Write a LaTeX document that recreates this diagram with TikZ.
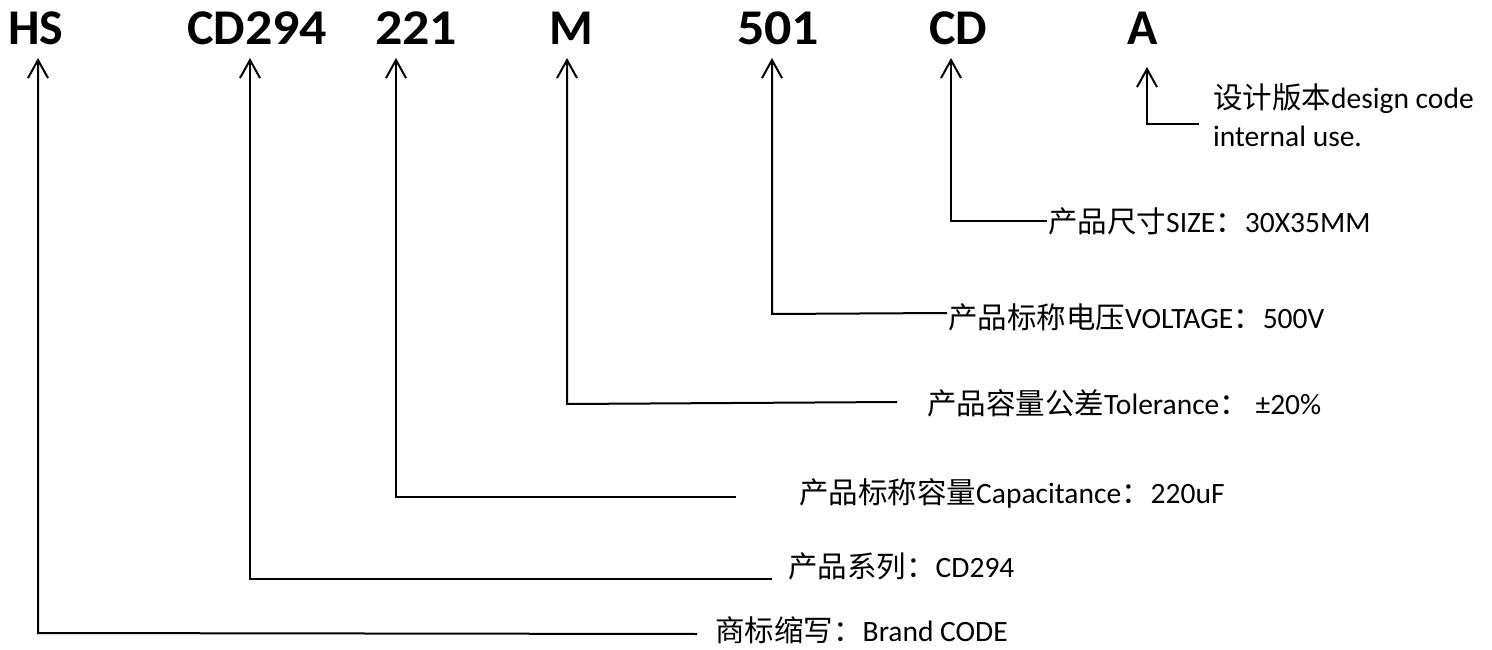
\documentclass[tikz,border=0pt]{standalone}
\usepackage{fontspec}
\setmainfont{Carlito}
\newfontfamily\cjk{Noto Sans CJK SC}
\usetikzlibrary{arrows.meta}
\newcommand{\wdig}[1]{\scalebox{1.08}[1]{#1}}
\begin{document}
\begin{tikzpicture}[x=1pt,y=-1pt,
  code/.style={anchor=base west,inner sep=0pt,font=\fontsize{50}{60}\selectfont\bfseries},
  lbl/.style={anchor=base west,inner sep=0pt,font=\fontsize{29.5}{38}\selectfont},
  arr/.style={draw=black,line width=2pt,-{Straight Barb[length=18pt,width=20pt,line width=2pt]}}]
\useasboundingbox (0,0) rectangle (1492,650);
% codes
\node[code] (hs)  at (8,45)    {HS};
\node[code] (cd2) at (187,45)  {CD\wdig{294}};
\node[code] (n221) at (375,45) {\wdig{221}};
\node[code] (m)   at (549,45)  {M};
\node[code] (n501) at (737,45) {\wdig{501}};
\node[code] (cd)  at (929,45)  {CD};
\node[code] (a)   at (1127,45) {A};
% labels
\node[lbl] (l1) at (715,641) {{\cjk 商标缩写：}Brand CODE};
\node[lbl] (l2) at (788,577) {{\cjk 产品系列：}CD294};
\node[lbl] (l3) at (799,503) {{\cjk 产品标称容量}Capacitance{\cjk ：}220uF};
\node[lbl] (l4) at (927,414) {{\cjk 产品容量公差}Tolerance{\cjk ：} ±20\%};
\node[lbl] (l5) at (948,328) {{\cjk 产品标称电压}VOLTAGE{\cjk ：}500V};
\node[lbl] (l6) at (1048,233) {{\cjk 产品尺寸}SIZE{\cjk ：}30X35MM};
\node[lbl] (l7) at (1213,109) {{\cjk 设计版本}design code};
\node[lbl] (l7b) at (1213,147) {internal use.};
% coordinates
\coordinate (t1) at (38,58);   \coordinate (c1) at (38,633);  \coordinate (e1) at (697,634);
\coordinate (t2) at (250,58);  \coordinate (c2) at (250,579); \coordinate (e2) at (772,579);
\coordinate (t3) at (396,58);  \coordinate (c3) at (396,497); \coordinate (e3) at (736,497);
\coordinate (t4) at (567,58);  \coordinate (c4) at (567,404); \coordinate (e4) at (897,402);
\coordinate (t5) at (772,58);  \coordinate (c5) at (772,314); \coordinate (e5) at (947,313);
\coordinate (t6) at (951,58);  \coordinate (c6) at (951,221); \coordinate (e6) at (1047,221);
\coordinate (t7) at (1147,67); \coordinate (c7) at (1147,124); \coordinate (e7) at (1199,124);
% connectors
\draw[arr] (e1) -- (c1) -- (t1);
\draw[arr] (e2) -- (c2) -- (t2);
\draw[arr] (e3) -- (c3) -- (t3);
\draw[arr] (e4) -- (c4) -- (t4);
\draw[arr] (e5) -- (c5) -- (t5);
\draw[arr] (e6) -- (c6) -- (t6);
\draw[arr] (e7) -- (c7) -- (t7);
\end{tikzpicture}
\end{document}
